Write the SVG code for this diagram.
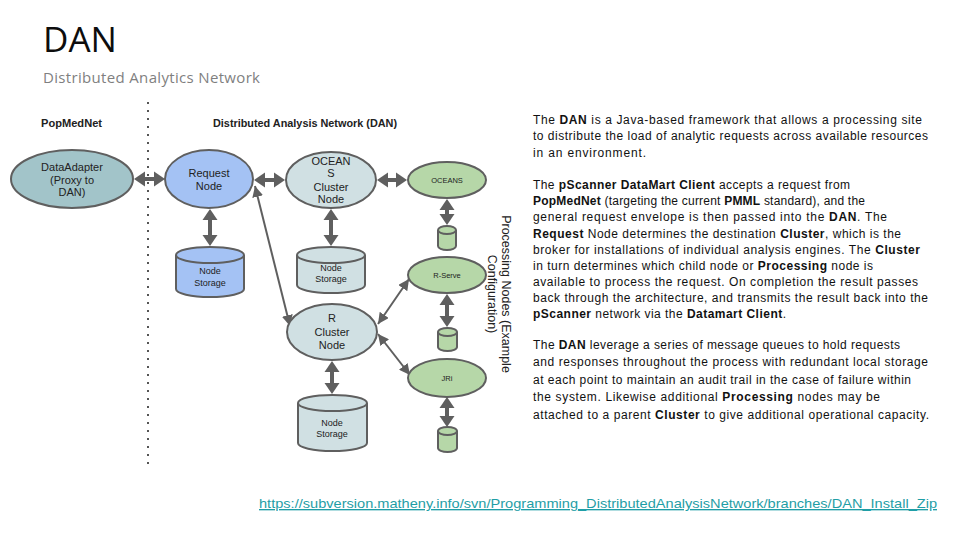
<svg xmlns="http://www.w3.org/2000/svg" width="960" height="540" viewBox="0 0 960 540">
<style>
.nd{stroke:#5f5f5f;stroke-width:2}
.t{font-family:"Liberation Sans",Arial,sans-serif;fill:#222;text-anchor:middle}
.body{font-family:"Liberation Sans",Arial,sans-serif;font-size:12px;fill:#111}
.b{font-weight:bold}
.thick{stroke:#5f5f5f;stroke-width:4;fill:none;marker-start:url(#hb);marker-end:url(#hb)}
.thin{stroke:#5f5f5f;stroke-width:2;fill:none;marker-start:url(#hs);marker-end:url(#hs)}
.da{fill:#a2c4c9}.rq{fill:#a4c2f4}.cl{fill:#d0e0e3}.pr{fill:#b6d7a8}
</style>
<defs>
<marker id="hb" markerUnits="userSpaceOnUse" markerWidth="12" markerHeight="16" refX="0" refY="7.5" orient="auto-start-reverse" viewBox="0 0 12 15">
<path d="M0,0 L11,7.5 L0,15 z" fill="#5f5f5f"/>
</marker>
<marker id="hs" markerUnits="userSpaceOnUse" markerWidth="11" markerHeight="11" refX="10" refY="5" orient="auto-start-reverse" viewBox="0 0 10 10">
<path d="M0,0 L10,5 L0,10 z" fill="#5f5f5f"/>
</marker>
</defs>
<rect width="960" height="540" fill="#ffffff"/>

<text x="43" y="52" font-family="'Open Sans',sans-serif" font-size="35" fill="#0d0d0d">DAN</text>
<text x="43" y="83" font-family="'Open Sans',sans-serif" font-size="15" fill="#7f7f7f" textLength="217" lengthAdjust="spacing">Distributed Analytics Network</text>

<line x1="148" y1="102" x2="148" y2="470" stroke="#555" stroke-width="2" stroke-dasharray="2 6"/>

<text x="41" y="127" class="t b" style="text-anchor:start" font-size="10.5" textLength="61" lengthAdjust="spacingAndGlyphs">PopMedNet</text>
<text x="213" y="127" class="t b" style="text-anchor:start" font-size="10.5" textLength="184" lengthAdjust="spacingAndGlyphs">Distributed Analysis Network (DAN)</text>

<g id="connectors">
<line class="thick" x1="145" y1="179" x2="154" y2="179"/>
<line class="thick" x1="265" y1="180" x2="274" y2="180"/>
<line class="thick" x1="388" y1="180" x2="396" y2="180"/>
<line class="thick" x1="210" y1="220" x2="210" y2="235"/>
<line class="thick" x1="331" y1="220" x2="331" y2="235"/>
<line class="thick" x1="447" y1="210" x2="447" y2="214"/>
<line class="thick" x1="447" y1="305" x2="447" y2="316"/>
<line class="thick" x1="447" y1="408" x2="447" y2="416"/>
<line class="thick" x1="332" y1="372" x2="332" y2="383"/>
<line class="thin" x1="255" y1="186" x2="290" y2="326"/>
<line class="thin" x1="378" y1="324" x2="409" y2="279"/>
<line class="thin" x1="378" y1="334" x2="410" y2="375"/>
</g>

<g id="dataadapter">
<ellipse class="nd da" cx="72" cy="179" rx="61" ry="29"/>
<text class="t" font-size="11"><tspan x="72" y="171">DataAdapter</tspan><tspan x="72" y="184">(Proxy to</tspan><tspan x="72" y="196">DAN)</tspan></text>
</g>

<g id="request-node">
<ellipse class="nd rq" cx="209" cy="179" rx="44" ry="29"/>
<text class="t" font-size="11"><tspan x="209" y="177">Request</tspan><tspan x="209" y="190">Node</tspan></text>
</g>

<g id="request-storage">
<path class="nd rq" d="M176,255 L176,289 A34,8 0 0 0 244,289 L244,255 A34,8 0 0 0 176,255 Z"/>
<path d="M176,255 A34,8 0 0 0 244,255" fill="none" class="nd"/>
<text class="t" font-size="9"><tspan x="210" y="274">Node</tspan><tspan x="210" y="286">Storage</tspan></text>
</g>

<g id="oceans-cluster">
<ellipse class="nd cl" cx="331" cy="180" rx="45" ry="28"/>
<text class="t" font-size="11"><tspan x="331" y="165">OCEAN</tspan><tspan x="331" y="177">S</tspan><tspan x="331" y="191">Cluster</tspan><tspan x="331" y="203">Node</tspan></text>
</g>

<g id="oceans-storage">
<path class="nd cl" d="M297,255 L297,285 A34,8 0 0 0 365,285 L365,255 A34,8 0 0 0 297,255 Z"/>
<path d="M297,255 A34,8 0 0 0 365,255" fill="none" class="nd"/>
<text class="t" font-size="9"><tspan x="331" y="271">Node</tspan><tspan x="331" y="282">Storage</tspan></text>
</g>

<g id="r-cluster">
<ellipse class="nd cl" cx="332" cy="332" rx="45" ry="28"/>
<text class="t" font-size="11"><tspan x="332" y="322">R</tspan><tspan x="332" y="336">Cluster</tspan><tspan x="332" y="349">Node</tspan></text>
</g>

<g id="r-storage">
<path class="nd cl" d="M298,403 L298,443 A34.5,8 0 0 0 367,443 L367,403 A34.5,8 0 0 0 298,403 Z"/>
<path d="M298,403 A34.5,8 0 0 0 367,403" fill="none" class="nd"/>
<text class="t" font-size="9"><tspan x="332" y="426">Node</tspan><tspan x="332" y="437">Storage</tspan></text>
</g>

<g id="oceans">
<ellipse class="nd pr" cx="447" cy="180" rx="39" ry="18"/>
<text class="t" x="447" y="183" font-size="7.5">OCEANS</text>
</g>
<g id="oceans-db">
<path class="nd pr" d="M438,230 L438,246 A9,4 0 0 0 456,246 L456,230 A9,4 0 0 0 438,230 Z"/>
<path d="M438,230 A9,4 0 0 0 456,230" fill="none" class="nd"/>
</g>

<g id="r-serve">
<ellipse class="nd pr" cx="447" cy="275" rx="39" ry="18"/>
<text class="t" x="447" y="278" font-size="7.5">R-Serve</text>
</g>
<g id="r-serve-db">
<path class="nd pr" d="M438,332 L438,347 A9.5,4 0 0 0 457,347 L457,332 A9.5,4 0 0 0 438,332 Z"/>
<path d="M438,332 A9.5,4 0 0 0 457,332" fill="none" class="nd"/>
</g>

<g id="jri">
<ellipse class="nd pr" cx="447" cy="378" rx="39" ry="19"/>
<text class="t" x="447" y="381" font-size="7.5">JRi</text>
</g>
<g id="jri-db">
<path class="nd pr" d="M438,431 L438,448 A9.5,4 0 0 0 457,448 L457,431 A9.5,4 0 0 0 438,431 Z"/>
<path d="M438,431 A9.5,4 0 0 0 457,431" fill="none" class="nd"/>
</g>

<text class="t" font-size="12.5" fill="#222" transform="translate(502,294) rotate(90)"><tspan x="0" y="0">Processing Nodes  (Example</tspan><tspan x="0" y="14">Configuration)</tspan></text>

<g id="description">
<text class="body" x="533" y="124" textLength="389" lengthAdjust="spacing">The <tspan class="b">DAN</tspan> is a Java-based framework that allows a processing site</text>
<text class="body" x="533" y="140" textLength="395" lengthAdjust="spacing">to distribute the load of analytic requests across available resources</text>
<text class="body" x="533" y="157" textLength="113" lengthAdjust="spacing">in an environment.</text>

<text class="body" x="533" y="189" textLength="317" lengthAdjust="spacing">The <tspan class="b">pScanner DataMart Client</tspan> accepts a request from</text>
<text class="body" x="533" y="205" textLength="332" lengthAdjust="spacing"><tspan class="b">PopMedNet</tspan> (targeting the current <tspan class="b">PMML</tspan> standard), and the</text>
<text class="body" x="533" y="221" textLength="354" lengthAdjust="spacing">general request envelope is then passed into the <tspan class="b">DAN</tspan>.  The</text>
<text class="body" x="533" y="238" textLength="368" lengthAdjust="spacing"><tspan class="b">Request</tspan> Node determines the destination <tspan class="b">Cluster</tspan>, which is the</text>
<text class="body" x="533" y="254" textLength="387" lengthAdjust="spacing">broker for installations of individual analysis engines.  The <tspan class="b">Cluster</tspan></text>
<text class="body" x="533" y="270" textLength="340" lengthAdjust="spacing">in turn determines which child node or <tspan class="b">Processing</tspan> node is</text>
<text class="body" x="533" y="286" textLength="385" lengthAdjust="spacing">available to process the request.  On completion the result passes</text>
<text class="body" x="533" y="302" textLength="395" lengthAdjust="spacing">back through the architecture, and transmits the result back into the</text>
<text class="body" x="533" y="318" textLength="253" lengthAdjust="spacing"><tspan class="b">pScanner</tspan> network via the <tspan class="b">Datamart Client</tspan>.</text>

<text class="body" x="533" y="349" textLength="367" lengthAdjust="spacing">The <tspan class="b">DAN</tspan> leverage a series of message queues to hold requests</text>
<text class="body" x="533" y="366" textLength="395" lengthAdjust="spacing">and responses throughout the process with redundant local storage</text>
<text class="body" x="533" y="384" textLength="378" lengthAdjust="spacing">at each point to maintain an audit trail in the case of failure within</text>
<text class="body" x="533" y="401" textLength="347" lengthAdjust="spacing">the system.  Likewise additional <tspan class="b">Processing</tspan> nodes may be</text>
<text class="body" x="533" y="419" textLength="396" lengthAdjust="spacing">attached to a parent <tspan class="b">Cluster</tspan> to give additional operational capacity.</text>
</g>

<text x="259" y="508" font-family="'Liberation Sans',Arial,sans-serif" font-size="13.5" fill="#1f9ea6" text-decoration="underline" textLength="678" lengthAdjust="spacingAndGlyphs">https://subversion.matheny.info/svn/Programming_DistributedAnalysisNetwork/branches/DAN_Install_Zip</text>
</svg>
